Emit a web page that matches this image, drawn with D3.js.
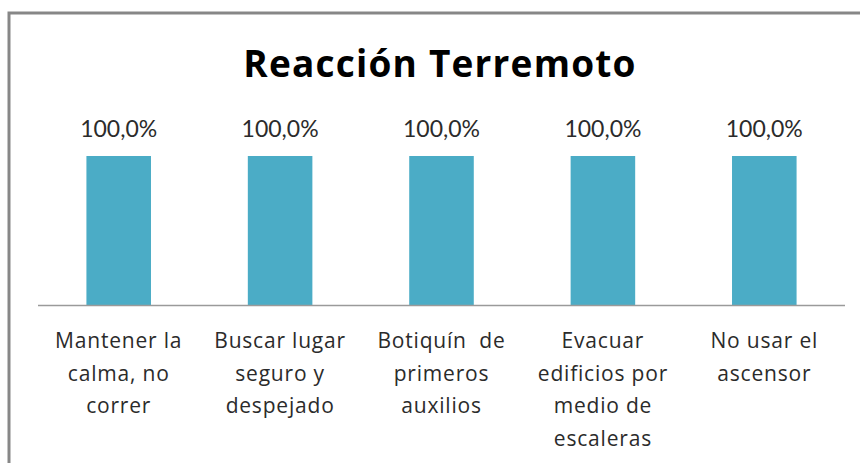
<!DOCTYPE html>
<html>
<head>
<meta charset="utf-8">
<script src="https://cdn.jsdelivr.net/npm/d3@7"></script>
<style>
  body { margin: 0; background: #fff; }
  text { white-space: pre; }
</style>
</head>
<body>
<div id="chart"></div>
<script>
// data
var categories = [
    ["Mantener la", "calma, no", "correr"],
    ["Buscar lugar", "seguro y", "despejado"],
    ["Botiquín  de", "primeros", "auxilios"],
    ["Evacuar", "edificios por", "medio de", "escaleras"],
    ["No usar el", "ascensor"]
];
var values = [1.0, 1.0, 1.0, 1.0, 1.0];
var title = "Reacción Terremoto";

var W = 860, H = 463;
var svg = d3.select("#chart").append("svg").attr("width", W).attr("height", H);

// chart frame (runs off the right and bottom edges like the screenshot)
svg.append("rect")
    .attr("x", 9).attr("y", 13).attr("width", W + 20).attr("height", H + 20)
    .attr("fill", "#fff").attr("stroke", "#878787").attr("stroke-width", 3);

// title
svg.append("text").text(title)
    .attr("x", 440).attr("y", 77)
    .attr("text-anchor", "middle")
    .style("font-family", "'Open Sans', sans-serif")
    .style("letter-spacing", "1.2px")
    .attr("font-size", 37).attr("font-weight", "bold").attr("fill", "#000");

// scales
var x = d3.scaleBand().domain(d3.range(values.length)).range([38, 845])
    .paddingInner(0.6).paddingOuter(0.3);
var y = d3.scaleLinear().domain([0, 1]).range([305, 156]);

// bars
svg.selectAll("rect.bar").data(values).enter().append("rect")
    .attr("class", "bar")
    .attr("x", (d, i) => x(i))
    .attr("y", d => y(d))
    .attr("width", x.bandwidth())
    .attr("height", d => y(0) - y(d))
    .attr("fill", "#4BACC6");

// axis line
svg.append("line")
    .attr("x1", x.range()[0]).attr("x2", x.range()[1])
    .attr("y1", y(0) + 0.5).attr("y2", y(0) + 0.5)
    .attr("stroke", "#9a9a9a").attr("stroke-width", 1.5);

// value labels
var fmt = d => (d * 100).toFixed(1).replace(".", ",") + "%";
svg.selectAll("text.val").data(values).enter().append("text")
    .attr("class", "val")
    .text(fmt)
    .attr("x", (d, i) => x(i) + x.bandwidth() / 2)
    .attr("y", d => y(d) - 19)
    .attr("text-anchor", "middle")
    .style("font-family", "Lato, sans-serif")
    .attr("font-size", 23).attr("fill", "#2b2b2b");

// category labels, wrapped like the original
var lineH = 32.5;
var cat = svg.selectAll("g.cat").data(categories).enter().append("g")
    .attr("class", "cat")
    .attr("transform", (d, i) => "translate(" + (x(i) + x.bandwidth() / 2) + "," + (y(0) + 43) + ")");
cat.selectAll("text").data(d => d).enter().append("text")
    .text(d => d)
    .attr("x", 0)
    .attr("y", (d, j) => j * lineH)
    .attr("text-anchor", "middle")
    .style("font-family", "'Open Sans', sans-serif")
    .style("letter-spacing", "0.8px")
    .attr("font-size", 21).attr("fill", "#2b2b2b");
</script>
</body>
</html>
